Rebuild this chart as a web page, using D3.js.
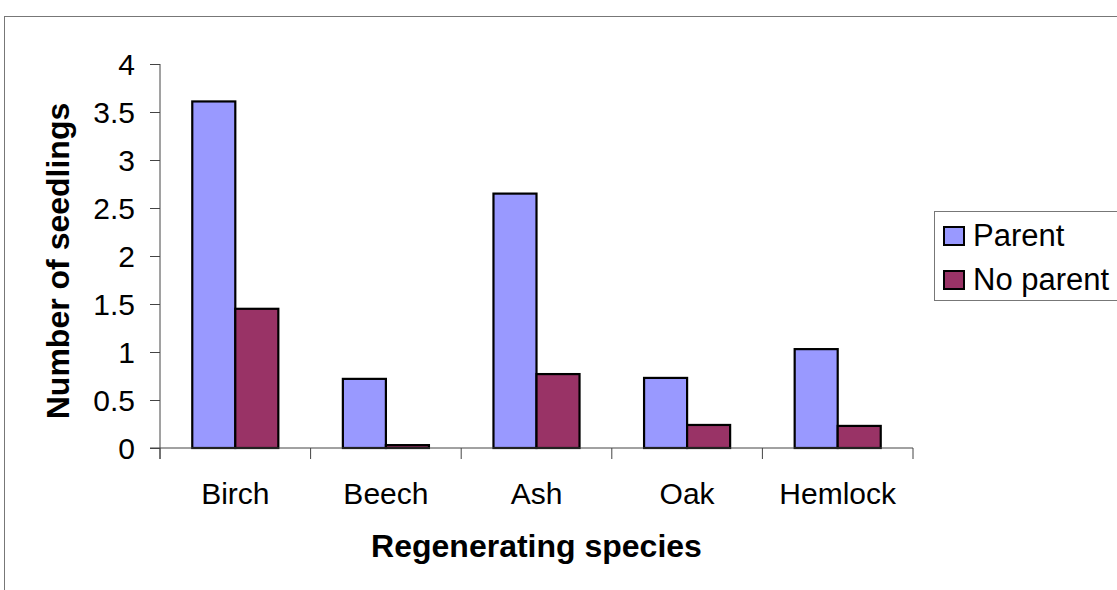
<!DOCTYPE html>
<html>
<head>
<meta charset="utf-8">
<script src="https://cdn.jsdelivr.net/npm/d3@7"></script>
<style>
  html, body { margin: 0; padding: 0; background: #fff; }
  svg { display: block; font-family: "Liberation Sans", Arial, sans-serif; }
</style>
</head>
<body>
<svg id="chart" width="1117" height="590"></svg>
<script>
const categories = ["Birch", "Beech", "Ash", "Oak", "Hemlock"];
const seriesNames = ["Parent", "No parent"];
const parentValues = [3.61, 0.72, 2.65, 0.73, 1.03];
const noParentValues = [1.45, 0.03, 0.77, 0.24, 0.23];
const yTicks = [0, 0.5, 1, 1.5, 2, 2.5, 3, 3.5, 4];
const seriesColors = ["#9999FF", "#993366"];
const xTitle = "Regenerating species";
const yTitle = "Number of seedlings";

const svg = d3.select("#chart");
const plot = { left: 160, right: 913, top: 64, bottom: 448 };

// outer chart frame
svg.append("rect")
  .attr("x", 4.5).attr("y", 16.5)
  .attr("width", 1200).attr("height", 700)
  .attr("fill", "none").attr("stroke", "#777").attr("stroke-width", 1);

const y = d3.scaleLinear().domain([0, 4]).range([plot.bottom, plot.top]);
const x0 = d3.scaleBand().domain(categories).range([plot.left, plot.right]).padding(0);
const x1 = d3.scaleBand().domain(seriesNames).range([0, x0.bandwidth()])
  .paddingInner(0).paddingOuter(0.75);

const seriesValues = [parentValues, noParentValues];

// bars
const groups = svg.append("g").selectAll("g")
  .data(categories).join("g")
  .attr("transform", d => `translate(${x0(d)},0)`);

groups.selectAll("rect")
  .data((c, i) => seriesNames.map((s, k) => ({ s, k, v: seriesValues[k][i] })))
  .join("rect")
  .attr("x", d => x1(d.s))
  .attr("y", d => y(d.v))
  .attr("width", x1.bandwidth())
  .attr("height", d => y(0) - y(d.v))
  .attr("fill", d => seriesColors[d.k])
  .attr("stroke", "#000")
  .attr("stroke-width", 2.2);

// y axis
const yAxis = svg.append("g")
  .attr("transform", `translate(${plot.left},0)`)
  .call(d3.axisLeft(y).tickValues(yTicks).tickSize(10).tickPadding(15)
    .tickFormat(d3.format("")));
yAxis.select(".domain").attr("stroke", "#444").attr("d", `M0,${plot.top}V${plot.bottom + 11}`);
yAxis.selectAll(".tick line").attr("stroke", "#444");
yAxis.selectAll(".tick text")
  .attr("font-size", 30).attr("fill", "#000")
  .attr("font-family", "Liberation Sans, Arial, sans-serif")
  .attr("dy", "0.36em");

// x axis: line, boundary ticks, centered labels
const xAxis = svg.append("g").attr("transform", `translate(0,${plot.bottom})`);
xAxis.call(d3.axisBottom(x0).tickSize(0).tickPadding(35));
xAxis.select(".domain").attr("stroke", "#444").attr("d", `M${plot.left - 10},0H${plot.right}`);
xAxis.selectAll(".tick text")
  .attr("font-size", 30).attr("fill", "#000")
  .attr("font-family", "Liberation Sans, Arial, sans-serif");
const boundaries = categories.map(c => x0(c)).concat([x0.range()[1]]);
xAxis.selectAll("line.bound").data(boundaries).join("line")
  .attr("class", "bound")
  .attr("x1", d => d).attr("x2", d => d)
  .attr("y1", 0).attr("y2", 11)
  .attr("stroke", "#444");

// axis titles
svg.append("text")
  .attr("x", (plot.left + plot.right) / 2).attr("y", 557)
  .attr("text-anchor", "middle")
  .attr("font-size", 32).attr("font-weight", "bold")
  .text(xTitle);

svg.append("text")
  .attr("transform", `translate(69,${(plot.top + plot.bottom) / 2 + 5}) rotate(-90)`)
  .attr("text-anchor", "middle")
  .attr("font-size", 32).attr("font-weight", "bold")
  .text(yTitle);

// legend
const legend = svg.append("g");
legend.append("rect")
  .attr("x", 934.5).attr("y", 211.5).attr("width", 300).attr("height", 89)
  .attr("fill", "#fff").attr("stroke", "#777").attr("stroke-width", 1);
const li = legend.selectAll("g.item").data(seriesNames).join("g")
  .attr("class", "item")
  .attr("transform", (d, i) => `translate(944,${227 + i * 44})`);
li.append("rect")
  .attr("width", 20).attr("height", 18)
  .attr("fill", (d, i) => seriesColors[i])
  .attr("stroke", "#000").attr("stroke-width", 2);
li.append("text")
  .attr("x", 29).attr("y", 19)
  .attr("font-size", 31)
  .text(d => d);
</script>
</body>
</html>
